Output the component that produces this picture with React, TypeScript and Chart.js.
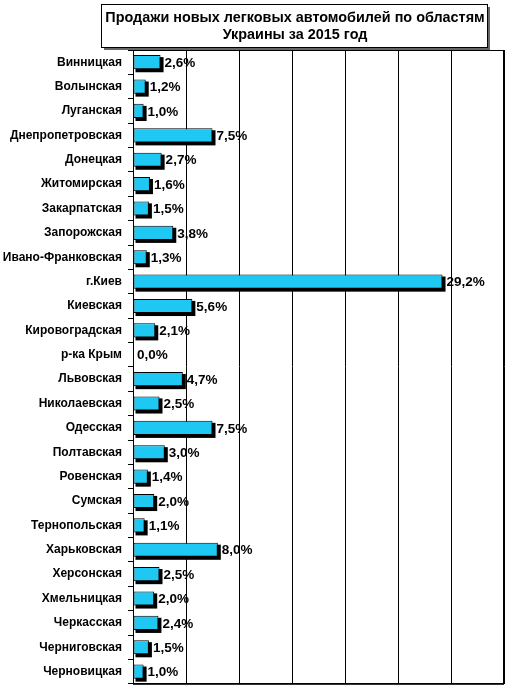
import { useEffect, useRef } from "react";
import { Chart, registerables } from "chart.js";
import type { ChartConfiguration, Plugin } from "chart.js";

Chart.register(...registerables);

const regions = [
  "Винницкая",
  "Волынская",
  "Луганская",
  "Днепропетровская",
  "Донецкая",
  "Житомирская",
  "Закарпатская",
  "Запорожская",
  "Ивано-Франковская",
  "г.Киев",
  "Киевская",
  "Кировоградская",
  "р-ка Крым",
  "Львовская",
  "Николаевская",
  "Одесская",
  "Полтавская",
  "Ровенская",
  "Сумская",
  "Тернопольская",
  "Харьковская",
  "Херсонская",
  "Хмельницкая",
  "Черкасская",
  "Черниговская",
  "Черновицкая",
];

const shares = [
  2.6, 1.2, 1.0, 7.5, 2.7, 1.6, 1.5, 3.8, 1.3, 29.2, 5.6, 2.1, 0.0, 4.7, 2.5,
  7.5, 3.0, 1.4, 2.0, 1.1, 8.0, 2.5, 2.0, 2.4, 1.5, 1.0,
];

const titleLines = [
  "Продажи новых легковых автомобилей по областям",
  "Украины за 2015 год",
];

const FONT = "'Liberation Sans', Arial, sans-serif";

// black drop shadow under each bar, like the old Excel chart
const barShadow: Plugin<"bar"> = {
  id: "barShadow",
  beforeDatasetsDraw(chart) {
    const ctx = chart.ctx;
    const meta = chart.getDatasetMeta(0);
    ctx.save();
    ctx.fillStyle = "#000";
    meta.data.forEach((el: any) => {
      const w = el.x - el.base;
      if (w <= 0) return;
      ctx.fillRect(el.base + 2, el.y - el.height / 2 + 2, w + 1, el.height + 1);
    });
    ctx.restore();
  },
};

const valueLabels: Plugin<"bar"> = {
  id: "valueLabels",
  afterDatasetsDraw(chart) {
    const ctx = chart.ctx;
    const meta = chart.getDatasetMeta(0);
    ctx.save();
    ctx.font = `bold 13.5px ${FONT}`;
    ctx.fillStyle = "#000";
    ctx.textBaseline = "middle";
    meta.data.forEach((el: any, i) => {
      const txt = shares[i].toFixed(1).replace(".", ",") + "%";
      ctx.fillText(txt, el.x + 4, el.y + 1);
    });
    ctx.restore();
  },
};

const frameAndTitle: Plugin<"bar"> = {
  id: "frameAndTitle",
  afterDraw(chart) {
    const ctx = chart.ctx;
    const a = chart.chartArea;
    ctx.save();
    ctx.strokeStyle = "#000";
    ctx.lineWidth = 1;
    ctx.strokeRect(a.left + 0.5, a.top + 0.5, a.right - a.left - 1, a.bottom - a.top);

    const x = 101;
    const y = 4;
    const w = 386;
    const h = 43;
    ctx.fillStyle = "#666";
    ctx.fillRect(x + 3, y + 3, w, h);
    ctx.fillStyle = "#fff";
    ctx.fillRect(x, y, w, h);
    ctx.strokeRect(x + 0.5, y + 0.5, w, h);
    ctx.fillStyle = "#000";
    ctx.font = `bold 14.4px ${FONT}`;
    ctx.textAlign = "center";
    ctx.textBaseline = "middle";
    ctx.fillText(titleLines[0], x + w / 2 + 1, y + 14);
    ctx.fillText(titleLines[1], x + w / 2 + 1, y + 31);
    ctx.restore();
  },
};

const App = () => {
  const canvasRef = useRef<HTMLCanvasElement | null>(null);

  useEffect(() => {
    document.body.style.margin = "0";
    const ctx = canvasRef.current?.getContext("2d");
    if (!ctx) return;

    const config: ChartConfiguration<"bar", number[], string> = {
      type: "bar",
      data: {
        labels: regions,
        datasets: [
          {
            data: shares,
            backgroundColor: "#1ec8f2",
            borderColor: "#000",
            borderWidth: 1,
            borderSkipped: false,
            categoryPercentage: 1,
            barPercentage: 0.58,
          },
        ],
      },
      options: {
        indexAxis: "y",
        animation: false,
        responsive: true,
        maintainAspectRatio: false,
        layout: { padding: { top: 50, right: 4, bottom: 5, left: 0 } },
        plugins: {
          legend: { display: false },
          tooltip: { enabled: false },
        },
        scales: {
          x: {
            min: 0,
            max: 35,
            ticks: { stepSize: 5, display: false },
            grid: { color: "#000", drawTicks: false, lineWidth: 1 },
            border: { color: "#000" },
          },
          y: {
            afterFit: (scale) => {
              scale.width = 133;
            },
            grid: {
              offset: true,
              drawOnChartArea: false,
              color: "#000",
              tickLength: 5,
            },
            border: { color: "#000" },
            ticks: {
              color: "#000",
              padding: 6,
              font: { family: FONT, size: 12, weight: "bold" },
            },
          },
        },
      },
      plugins: [barShadow, valueLabels, frameAndTitle],
    };

    const chart = new Chart(ctx, config);
    return () => chart.destroy();
  }, []);

  return (
    <div style={{ position: "relative", width: 508, height: 697, background: "#fff" }}>
      <canvas ref={canvasRef} />
    </div>
  );
};

export default App;
